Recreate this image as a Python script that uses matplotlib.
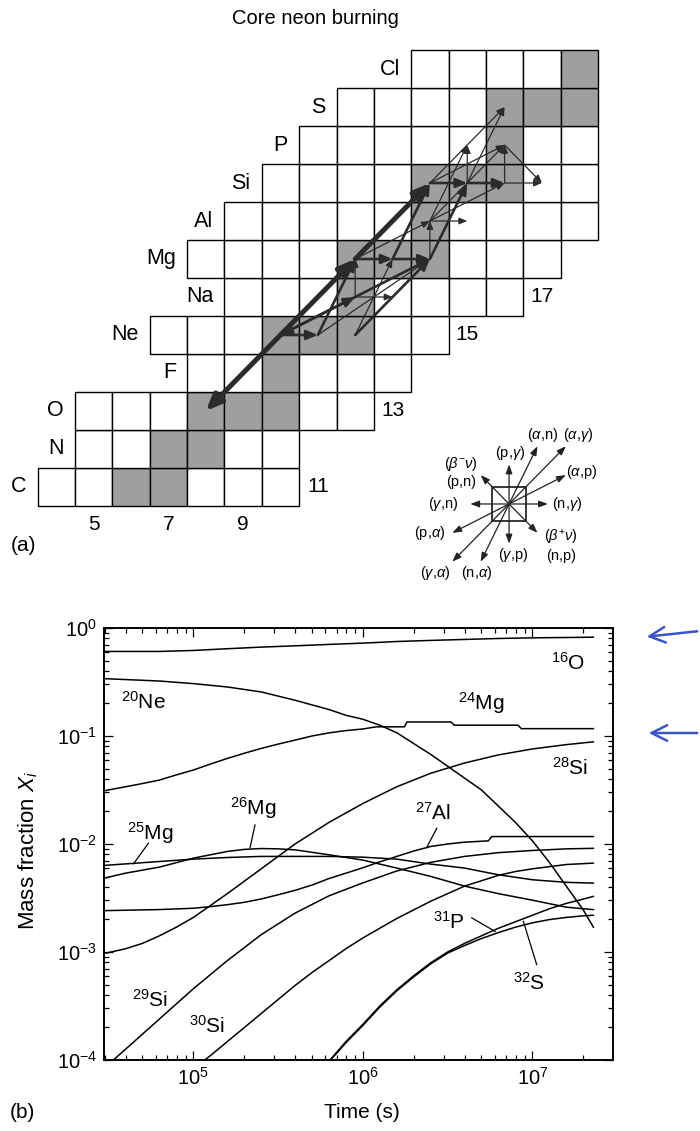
import matplotlib
matplotlib.use('Agg')
import matplotlib.pyplot as plt
from matplotlib.patches import Rectangle, FancyArrowPatch
from matplotlib.ticker import LogLocator, NullFormatter
import numpy as np

plt.rcParams['font.family'] = ['Liberation Sans', 'DejaVu Sans']
plt.rcParams['mathtext.fontset'] = 'custom'
plt.rcParams['mathtext.rm'] = 'Liberation Sans'
plt.rcParams['mathtext.it'] = 'Liberation Sans:italic'
plt.rcParams['mathtext.bf'] = 'Liberation Sans:bold'

# ---------------- Panel (a) data: chart of nuclides ----------------
elements = ['C', 'N', 'O', 'F', 'Ne', 'Na', 'Mg', 'Al', 'Si', 'P', 'S', 'Cl']
element_Z = [6, 7, 8, 9, 10, 11, 12, 13, 14, 15, 16, 17]
row_N_min = [4, 5, 5, 8, 7, 9, 8, 9, 10, 11, 12, 14]
row_N_max = [10, 10, 12, 13, 14, 16, 17, 18, 18, 18, 18, 18]
stable_N = [6, 7, 7, 8, 8, 9, 10, 10, 10, 11, 12, 12, 12, 13, 14, 14, 14, 15, 16, 16, 16, 17, 18, 18]
stable_Z = [6, 6, 7, 7, 8, 8, 8, 9, 10, 10, 10, 11, 12, 12, 12, 13, 14, 14, 14, 15, 16, 16, 16, 17]
neutron_labels = ['5', '7', '9', '11', '13', '15', '17']
neutron_label_N = [5, 7, 9, 11, 13, 15, 17]
neutron_label_Z = [5, 5, 5, 6, 8, 10, 11]

# reaction flows (from N,Z -> to N,Z), strength class 3=strong 2=medium 1=weak
flow_N1 = [10, 10, 12, 10, 11, 12, 10, 12, 13, 13, 14, 14, 15, 12, 12, 12, 12, 14, 14, 12, 16, 14, 15, 15, 16, 14, 14, 14, 16, 12, 14, 11]
flow_Z1 = [10, 10, 12, 10, 10, 11, 10, 12, 12, 12, 12, 14, 14, 10, 11, 10, 12, 13, 13, 11, 14, 14, 14, 14, 14, 13, 14, 13, 15, 11, 12, 10]
flow_N2 = [8, 12, 14, 11, 12, 10, 12, 13, 14, 14, 15, 15, 16, 14, 14, 13, 14, 16, 15, 13, 17, 16, 16, 15, 16, 16, 16, 15, 17, 12, 14, 14]
flow_Z2 = [8, 12, 14, 10, 12, 10, 11, 12, 12, 14, 14, 14, 14, 12, 12, 12, 13, 14, 13, 11, 14, 16, 16, 15, 15, 15, 15, 15, 14, 12, 13, 12]
flow_strength = [3, 3, 3, 2, 2, 2, 2, 2, 2, 2, 2, 2, 2, 2, 2, 1, 1, 1, 1, 1, 1, 1, 1, 1, 1, 1, 1, 1, 1, 1, 1, 1]

# key of reaction directions
key_labels = [r'(p,$\gamma$)', r'($\gamma$,p)', r'(n,$\gamma$)', r'($\gamma$,n)',
              r'($\alpha$,n)', r'($\alpha$,$\gamma$)', r'($\alpha$,p)',
              r'(p,$\alpha$)', r'($\gamma$,$\alpha$)', r'(n,$\alpha$)']
key_dN = [0, 0, 1, -1, 1, 2, 2, -2, -2, -1]
key_dZ = [1, -1, 0, 0, 2, 2, 1, -1, -2, -2]
key_diag_labels = [r'($\beta^{-}\nu$)' + '\n(p,n)', r'($\beta^{+}\nu$)' + '\n(n,p)']
key_diag_dN = [-1, 1]
key_diag_dZ = [1, -1]

# ---------------- Panel (b) data: mass fractions (log10 t [s], log10 X) ----------------
lt_16O = [4.477, 4.8, 5.0, 5.2, 5.4, 5.6, 5.8, 6.0, 6.2, 6.4, 6.6, 6.8, 7.0, 7.2, 7.36]
lX_16O = [-0.217, -0.217, -0.208, -0.192, -0.177, -0.165, -0.152, -0.140, -0.125, -0.115, -0.106, -0.097, -0.091, -0.088, -0.085]

lt_20Ne = [4.477, 4.8, 5.0, 5.2, 5.4, 5.6, 5.8, 5.9, 6.0, 6.1, 6.2, 6.3, 6.4, 6.5, 6.6, 6.7, 6.8, 6.9, 7.0, 7.1, 7.2, 7.3, 7.36]
lX_20Ne = [-0.469, -0.491, -0.515, -0.546, -0.592, -0.669, -0.755, -0.808, -0.845, -0.90, -0.97, -1.07, -1.17, -1.28, -1.39, -1.50, -1.65, -1.80, -1.97, -2.17, -2.39, -2.61, -2.77]

lt_24Mg = [4.477, 4.6, 4.7, 4.8, 4.9, 5.0, 5.1, 5.2, 5.3, 5.4, 5.5, 5.6, 5.7, 5.8, 5.9, 6.0, 6.08, 6.245, 6.26, 6.52, 6.54, 6.915, 6.935, 7.36]
lX_24Mg = [-1.506, -1.47, -1.44, -1.408, -1.36, -1.315, -1.26, -1.208, -1.16, -1.115, -1.075, -1.038, -1.0, -0.971, -0.95, -0.935, -0.915, -0.915, -0.87, -0.87, -0.90, -0.90, -0.932, -0.932]

lt_28Si = [4.477, 4.6, 4.7, 4.8, 4.9, 5.0, 5.2, 5.4, 5.6, 5.8, 6.0, 6.2, 6.4, 6.6, 6.8, 7.0, 7.2, 7.36]
lX_28Si = [-3.013, -2.97, -2.92, -2.85, -2.77, -2.68, -2.46, -2.23, -2.0, -1.80, -1.625, -1.47, -1.345, -1.25, -1.175, -1.12, -1.08, -1.054]

lt_25Mg = [4.477, 4.8, 5.0, 5.2, 5.4, 5.6, 5.8, 6.0, 6.2, 6.4, 6.6, 6.8, 7.0, 7.2, 7.36]
lX_25Mg = [-2.198, -2.162, -2.14, -2.125, -2.115, -2.115, -2.115, -2.122, -2.14, -2.186, -2.223, -2.285, -2.331, -2.355, -2.362]

lt_26Mg = [4.477, 4.6, 4.8, 5.0, 5.2, 5.3, 5.4, 5.5, 5.6, 5.8, 6.0, 6.2, 6.4, 6.6, 6.8, 7.0, 7.2, 7.36]
lX_26Mg = [-2.315, -2.27, -2.214, -2.131, -2.069, -2.05, -2.042, -2.045, -2.054, -2.10, -2.149, -2.223, -2.30, -2.39, -2.46, -2.52, -2.585, -2.608]

lt_27Al = [4.477, 4.8, 5.0, 5.1, 5.2, 5.3, 5.4, 5.5, 5.6, 5.7, 5.8, 5.9, 6.0, 6.1, 6.2, 6.3, 6.4, 6.5, 6.6, 6.74, 6.76, 7.36]
lX_27Al = [-2.617, -2.607, -2.595, -2.58, -2.562, -2.54, -2.509, -2.47, -2.429, -2.38, -2.32, -2.27, -2.22, -2.165, -2.115, -2.065, -2.023, -2.0, -1.983, -1.971, -1.931, -1.931]

lt_29Si = [4.528, 4.6, 4.7, 4.8, 4.9, 5.0, 5.1, 5.2, 5.3, 5.4, 5.5, 5.6, 5.7, 5.8, 5.9, 6.0, 6.2, 6.4, 6.6, 6.8, 7.0, 7.2, 7.36]
lX_29Si = [-4.0, -3.9, -3.76, -3.62, -3.48, -3.34, -3.21, -3.08, -2.96, -2.84, -2.74, -2.64, -2.56, -2.48, -2.42, -2.36, -2.25, -2.17, -2.115, -2.08, -2.06, -2.045, -2.04]

lt_30Si = [5.067, 5.1, 5.2, 5.3, 5.4, 5.5, 5.6, 5.7, 5.8, 5.9, 6.0, 6.1, 6.2, 6.3, 6.4, 6.5, 6.6, 6.7, 6.8, 6.9, 7.0, 7.1, 7.2, 7.36]
lX_30Si = [-4.0, -3.96, -3.83, -3.70, -3.57, -3.44, -3.31, -3.19, -3.08, -2.97, -2.87, -2.78, -2.69, -2.61, -2.53, -2.46, -2.39, -2.34, -2.29, -2.255, -2.23, -2.21, -2.19, -2.177]

lt_31P = [5.807, 5.85, 5.9, 5.95, 6.0, 6.1, 6.2, 6.3, 6.4, 6.5, 6.6, 6.7, 6.8, 6.9, 7.0, 7.1, 7.2, 7.3, 7.36]
lX_31P = [-4.0, -3.92, -3.83, -3.75, -3.67, -3.5, -3.35, -3.22, -3.1, -3.0, -2.92, -2.85, -2.78, -2.72, -2.66, -2.60, -2.55, -2.51, -2.485]

lt_32S = [5.807, 5.85, 5.9, 5.95, 6.0, 6.1, 6.2, 6.3, 6.4, 6.5, 6.6, 6.7, 6.8, 6.9, 7.0, 7.1, 7.2, 7.3, 7.36]
lX_32S = [-4.0, -3.93, -3.84, -3.76, -3.68, -3.51, -3.36, -3.23, -3.11, -3.01, -2.94, -2.875, -2.82, -2.77, -2.73, -2.70, -2.68, -2.665, -2.66]

curves = [(lt_16O, lX_16O), (lt_20Ne, lX_20Ne), (lt_24Mg, lX_24Mg), (lt_28Si, lX_28Si),
          (lt_25Mg, lX_25Mg), (lt_26Mg, lX_26Mg), (lt_27Al, lX_27Al), (lt_29Si, lX_29Si),
          (lt_30Si, lX_30Si), (lt_31P, lX_31P), (lt_32S, lX_32S)]

# ---------------- figure ----------------
W, H = 700, 1131
fig = plt.figure(figsize=(W / 100, H / 100), dpi=100)

# panel (a)
axA = fig.add_axes([0, 1 - 600 / H, 1, 600 / H])
axA.set_xlim(2.49, 21.232)
axA.set_ylim(3.026, 18.816)
axA.axis('off')

stable = set(zip(stable_N, stable_Z))
for el, Z, n0, n1 in zip(elements, element_Z, row_N_min, row_N_max):
    for N in range(n0, n1 + 1):
        fc = '#9f9f9f' if (N, Z) in stable else 'white'
        axA.add_patch(Rectangle((N - 0.5, Z - 0.5), 1, 1, facecolor=fc,
                                edgecolor='black', lw=1.0, zorder=1))
    axA.text(n0 - 0.8, Z, el, ha='right', va='center', fontsize=15.5)

for lab, N, Z in zip(neutron_labels, neutron_label_N, neutron_label_Z):
    axA.text(N, Z, lab, ha='center', va='center', fontsize=15)

axA.text(10.93, 18.34, 'Core neon burning', ha='center', va='center', fontsize=14.5)
axA.text(3.11, 4.47, '(a)', ha='center', va='center', fontsize=15)

style_lw = {3: 3.6, 2: 1.9, 1: 0.9}
style_ms = {3: 16, 2: 11, 1: 8}
for n1, z1, n2, z2, s in zip(flow_N1, flow_Z1, flow_N2, flow_Z2, flow_strength):
    axA.annotate('', xy=(n2, z2), xytext=(n1, z1),
                 arrowprops=dict(arrowstyle='-|>,head_length=0.6,head_width=0.25',
                                 mutation_scale=style_ms[s], lw=style_lw[s],
                                 color='#2b2b2b', shrinkA=0, shrinkB=0),
                 zorder=3 + s)

# key diagram
kc = (16.12, 5.553)
axA.add_patch(Rectangle((kc[0] - 0.45, kc[1] - 0.45), 0.9, 0.9, facecolor='none',
                        edgecolor='black', lw=1.1, zorder=2))
key_label_pos = [(16.15, 6.89), (16.23, 4.21), (17.67, 5.55), (14.35, 5.55),
                 (17.03, 7.37), (17.97, 7.37), (18.07, 6.39),
                 (14.0, 4.79), (14.14, 3.74), (15.26, 3.74)]
for lab, dN, dZ, pos in zip(key_labels, key_dN, key_dZ, key_label_pos):
    s = 1.04 if abs(dN) + abs(dZ) == 1 else 0.76
    axA.annotate('', xy=(kc[0] + s * dN, kc[1] + s * dZ), xytext=kc,
                 arrowprops=dict(arrowstyle='-|>,head_length=0.6,head_width=0.22',
                                 mutation_scale=9, lw=0.9, color='#222222',
                                 shrinkA=0, shrinkB=0), zorder=3)
    axA.text(pos[0], pos[1], lab, ha='center', va='center', fontsize=10.5)
key_diag_pos = [(14.83, 6.40), (17.51, 4.45)]
for lab, dN, dZ, pos in zip(key_diag_labels, key_diag_dN, key_diag_dZ, key_diag_pos):
    s = 0.76
    axA.annotate('', xy=(kc[0] + s * dN, kc[1] + s * dZ), xytext=kc,
                 arrowprops=dict(arrowstyle='-|>,head_length=0.6,head_width=0.22',
                                 mutation_scale=9, lw=0.9, color='#222222',
                                 shrinkA=0, shrinkB=0), zorder=3)
    axA.text(pos[0], pos[1], lab, ha='center', va='center', fontsize=10.5,
             linespacing=1.2)

# panel (b)
axB = fig.add_axes([104 / W, 71 / H, 509 / W, 432 / H])
axB.set_xscale('log')
axB.set_yscale('log')
for lt, lX in curves:
    axB.plot(10.0 ** np.array(lt), 10.0 ** np.array(lX), color='black', lw=1.1)
axB.set_xlim(2.97e4, 2.99e7)
axB.set_ylim(1e-4, 1)
for sp in axB.spines.values():
    sp.set_linewidth(1.4)
axB.xaxis.set_major_locator(LogLocator(base=10))
axB.yaxis.set_major_locator(LogLocator(base=10))
axB.xaxis.set_minor_locator(LogLocator(base=10, subs=np.arange(2, 10)))
axB.yaxis.set_minor_locator(LogLocator(base=10, subs=np.arange(2, 10)))
axB.xaxis.set_minor_formatter(NullFormatter())
axB.yaxis.set_minor_formatter(NullFormatter())
axB.tick_params(which='both', direction='in', top=True, right=True, width=0.9,
                labelsize=14.5)
axB.tick_params(which='major', length=6.5, pad=5)
axB.tick_params(which='minor', length=3.3)

iso_labels = [r'$^{16}$O', r'$^{20}$Ne', r'$^{24}$Mg', r'$^{28}$Si', r'$^{26}$Mg',
              r'$^{25}$Mg', r'$^{27}$Al', r'$^{29}$Si', r'$^{30}$Si', r'$^{31}$P', r'$^{32}$S']
iso_label_t = [1.63e7, 5.07e4, 5.0e6, 1.67e7, 2.26e5, 5.56e4, 2.6e6, 5.56e4, 1.2e5, 3.23e6, 9.55e6]
iso_label_X = [0.48, 0.205, 0.201, 0.0505, 0.0215, 0.01265, 0.0194, 3.63e-4, 2.09e-4, 1.9e-3, 5.2e-4]
for lab, t, X in zip(iso_labels, iso_label_t, iso_label_X):
    axB.text(t, X, lab, ha='center', va='center', fontsize=15)

pointer_t1 = [2.31e5, 5.43e4, 2.73e6, 4.39e6, 1.06e7]
pointer_X1 = [0.015, 0.01016, 0.014, 2.07e-3, 7.66e-4]
pointer_t2 = [2.16e5, 4.43e4, 2.38e6, 6.03e6, 8.85e6]
pointer_X2 = [9.27e-3, 6.55e-3, 9.27e-3, 1.55e-3, 1.92e-3]
for a, b, c, d in zip(pointer_t1, pointer_X1, pointer_t2, pointer_X2):
    axB.plot([a, c], [b, d], color='black', lw=0.9)

fig.text(362 / W, 1 - 1112 / H, 'Time (s)', ha='center', va='center', fontsize=15)
fig.text(28 / W, 1 - 850 / H, r'Mass fraction $X_i$', ha='center', va='center',
         rotation=90, fontsize=16)
fig.text(22 / W, 1 - 1112 / H, '(b)', ha='center', va='center', fontsize=15)

# hand-drawn blue marks on the scan
for (x1, y1, x2, y2) in [(700, 631, 644, 637), (700, 733, 646, 733)]:
    fig.add_artist(FancyArrowPatch((x1 / W, 1 - y1 / H), (x2 / W, 1 - y2 / H),
                                   transform=fig.transFigure,
                                   arrowstyle='->,head_length=0.7,head_width=0.35',
                                   mutation_scale=16, lw=1.8, color='#3b55c6'))

fig.savefig('out.png', dpi=100)
